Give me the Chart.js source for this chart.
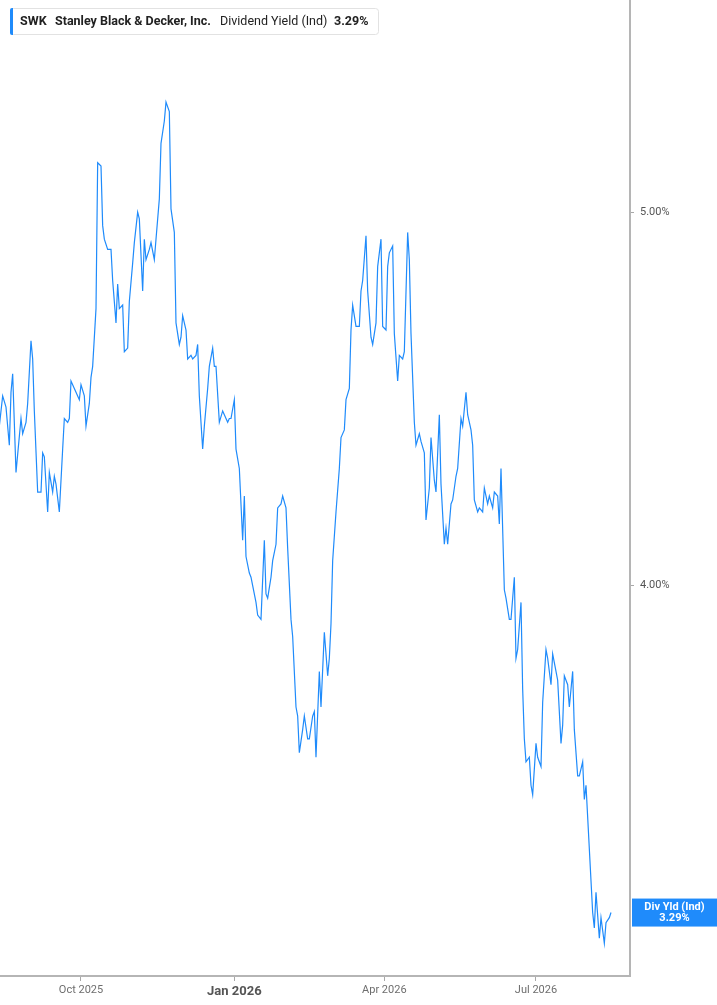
<!DOCTYPE html>
<html>
<head>
<meta charset="utf-8">
<script src="https://cdn.jsdelivr.net/npm/chart.js@4/dist/chart.umd.min.js"></script>
<style>
  html, body { margin: 0; padding: 0; background: #fff; }
  #wrap { width: 717px; height: 1005px; position: relative; }
</style>
</head>
<body>
<div id="wrap"><canvas id="c" width="717" height="1005"></canvas></div>
<script>
// SWK indicated dividend yield (%)
const dates = [
  "2025-08-13","2025-08-15","2025-08-17","2025-08-19","2025-08-20","2025-08-21","2025-08-23","2025-08-26","2025-08-27","2025-08-29","2025-08-30",
  "2025-09-01","2025-09-02","2025-09-03","2025-09-05","2025-09-07","2025-09-08","2025-09-09","2025-09-11","2025-09-12","2025-09-14","2025-09-15","2025-09-16","2025-09-18","2025-09-20","2025-09-21","2025-09-23","2025-09-24","2025-09-25","2025-09-27","2025-09-28","2025-09-30",
  "2025-10-01","2025-10-03","2025-10-04","2025-10-06","2025-10-07","2025-10-08","2025-10-10","2025-10-11","2025-10-13","2025-10-14","2025-10-15","2025-10-17","2025-10-19","2025-10-20","2025-10-22","2025-10-23","2025-10-24","2025-10-26","2025-10-27","2025-10-29","2025-10-30",
  "2025-11-01","2025-11-02","2025-11-04","2025-11-05","2025-11-07","2025-11-08","2025-11-09","2025-11-11","2025-11-12","2025-11-14","2025-11-15","2025-11-17","2025-11-18","2025-11-20","2025-11-21","2025-11-23","2025-11-24","2025-11-26","2025-11-27","2025-11-29","2025-11-30",
  "2025-12-01","2025-12-03","2025-12-04","2025-12-06","2025-12-07","2025-12-09","2025-12-10","2025-12-11","2025-12-13","2025-12-14","2025-12-16","2025-12-17","2025-12-19","2025-12-20","2025-12-21","2025-12-23","2025-12-25","2025-12-26","2025-12-28","2025-12-29","2025-12-30",
  "2026-01-01","2026-01-02","2026-01-04","2026-01-06","2026-01-07","2026-01-08","2026-01-10","2026-01-11","2026-01-12","2026-01-14","2026-01-15","2026-01-17","2026-01-19","2026-01-20","2026-01-21","2026-01-23","2026-01-24","2026-01-26","2026-01-27","2026-01-29","2026-01-30",
  "2026-02-01","2026-02-02","2026-02-04","2026-02-05","2026-02-07","2026-02-08","2026-02-09","2026-02-11","2026-02-12","2026-02-14","2026-02-15","2026-02-17","2026-02-18","2026-02-19","2026-02-21","2026-02-22","2026-02-24","2026-02-26","2026-02-27","2026-02-28",
  "2026-03-01","2026-03-03","2026-03-05","2026-03-06","2026-03-08","2026-03-09","2026-03-11","2026-03-12","2026-03-13","2026-03-15","2026-03-17","2026-03-18","2026-03-19","2026-03-21","2026-03-22","2026-03-24","2026-03-25","2026-03-27","2026-03-28","2026-03-30","2026-03-31",
  "2026-04-02","2026-04-03","2026-04-04","2026-04-06","2026-04-07","2026-04-09","2026-04-10","2026-04-12","2026-04-13","2026-04-15","2026-04-16","2026-04-17","2026-04-19","2026-04-20","2026-04-22","2026-04-23","2026-04-25","2026-04-26","2026-04-28","2026-04-29",
  "2026-05-01","2026-05-02","2026-05-04","2026-05-05","2026-05-07","2026-05-08","2026-05-09","2026-05-11","2026-05-12","2026-05-14","2026-05-15","2026-05-17","2026-05-18","2026-05-20","2026-05-21","2026-05-23","2026-05-24","2026-05-25","2026-05-27","2026-05-28","2026-05-30","2026-05-31",
  "2026-06-02","2026-06-03","2026-06-05","2026-06-06","2026-06-08","2026-06-09","2026-06-10","2026-06-12","2026-06-13","2026-06-15","2026-06-16","2026-06-18","2026-06-19","2026-06-20","2026-06-22","2026-06-23","2026-06-24","2026-06-25","2026-06-27","2026-06-28","2026-06-29",
  "2026-07-01","2026-07-02","2026-07-04","2026-07-05","2026-07-07","2026-07-08","2026-07-10","2026-07-11","2026-07-13","2026-07-14","2026-07-16","2026-07-17","2026-07-18","2026-07-20","2026-07-21","2026-07-23","2026-07-24","2026-07-26","2026-07-27","2026-07-29","2026-07-30","2026-07-31",
  "2026-08-04","2026-08-05","2026-08-06","2026-08-08","2026-08-09","2026-08-11","2026-08-12","2026-08-14","2026-08-15"
];
const yields = [
  4.40,4.48,4.45,4.35,4.49,4.54,4.28,4.42,4.38,4.41,4.46,
  4.63,4.58,4.44,4.23,4.23,4.33,4.32,4.18,4.28,4.23,4.27,4.25,4.18,4.34,4.42,4.41,4.42,4.52,4.50,4.49,4.47,
  4.51,4.48,4.40,4.46,4.53,4.56,4.72,5.15,5.14,4.96,4.92,4.89,4.89,4.80,4.68,4.79,4.72,4.73,4.60,4.61,4.74,
  4.85,4.91,5.00,4.98,4.77,4.92,4.86,4.89,4.91,4.86,4.92,5.04,5.21,5.28,5.34,5.31,5.01,4.94,4.68,4.62,4.64,
  4.70,4.66,4.58,4.59,4.58,4.59,4.62,4.48,4.34,4.40,4.50,4.56,4.61,4.56,4.56,4.41,4.44,4.43,4.41,4.42,4.42,
  4.47,4.34,4.29,4.11,4.22,4.07,4.03,4.02,4.00,3.96,3.93,3.92,4.11,3.98,3.97,4.02,4.06,4.10,4.19,4.20,4.22,
  4.19,4.09,3.92,3.88,3.72,3.70,3.62,3.67,3.70,3.65,3.65,3.70,3.71,3.61,3.80,3.72,3.89,3.79,3.83,3.91,
  4.06,4.18,4.29,4.37,4.39,4.47,4.50,4.66,4.73,4.67,4.67,4.77,4.80,4.93,4.77,4.64,4.62,4.68,4.84,4.92,4.67,
  4.66,4.84,4.88,4.90,4.65,4.52,4.59,4.58,4.60,4.94,4.86,4.65,4.41,4.35,4.38,4.36,4.33,4.16,4.24,4.37,
  4.26,4.23,4.43,4.25,4.10,4.14,4.10,4.20,4.21,4.27,4.29,4.42,4.40,4.49,4.43,4.39,4.35,4.21,4.18,4.19,4.18,4.24,
  4.20,4.22,4.19,4.23,4.22,4.15,4.29,3.99,3.97,3.92,3.92,4.02,3.83,3.85,3.96,3.76,3.65,3.60,3.61,3.55,3.53,
  3.64,3.61,3.59,3.73,3.85,3.83,3.77,3.84,3.80,3.78,3.64,3.68,3.79,3.77,3.72,3.80,3.67,3.57,3.57,3.60,3.52,3.55,
  3.29,3.26,3.33,3.24,3.28,3.23,3.27,3.28,3.29
];
const tickDates = ["2025-10-01", "2026-01-01", "2026-04-01", "2026-07-01"];
const tickLabels = ["Oct 2025", "Jan 2026", "Apr 2026", "Jul 2026"];
const yTicks = [4, 5];

const LINE = "#1f8bfb";
const FONT = "Roboto, 'Liberation Sans', Arial, sans-serif";

const dayNum = s => Date.UTC(+s.slice(0, 4), +s.slice(5, 7) - 1, +s.slice(8, 10)) / 86400000;
const points = dates.map((d, i) => ({ x: dayNum(d), y: yields[i] }));
const lastVal = yields[yields.length - 1];

const overlay = {
  id: "overlay",
  afterDraw(chart) {
    const { ctx, chartArea, scales } = chart;
    ctx.save();

    // header box
    ctx.fillStyle = "#fff";
    ctx.strokeStyle = "#e2e2e2";
    ctx.lineWidth = 1;
    ctx.beginPath();
    ctx.roundRect(10.5, 8.5, 368, 26, 3);
    ctx.fill();
    ctx.stroke();
    ctx.fillStyle = LINE;
    ctx.beginPath();
    ctx.roundRect(10, 8, 3, 27, [2, 0, 0, 2]);
    ctx.fill();

    ctx.fillStyle = "#222";
    ctx.textBaseline = "middle";
    ctx.textAlign = "left";
    ctx.font = "bold 12.5px " + FONT;
    ctx.fillText("SWK", 20, 21.5);
    ctx.fillText("Stanley Black & Decker, Inc.", 55, 21.5);
    ctx.font = "12.5px " + FONT;
    ctx.fillText("Dividend Yield (Ind)", 220, 21.5);
    ctx.font = "bold 12.5px " + FONT;
    ctx.fillText(lastVal.toFixed(2) + "%", 334, 21.5);

    // last value tag on the right axis
    const py = scales.y.getPixelForValue(lastVal);
    const left = chartArea.right + 2;
    ctx.fillStyle = LINE;
    ctx.fillRect(left, py - 14, chart.width - left, 28);
    ctx.fillStyle = "#fff";
    ctx.textAlign = "center";
    ctx.font = "bold 11px " + FONT;
    const cx = (left + chart.width) / 2;
    ctx.fillText("Div Yld (Ind)", cx, py - 5);
    ctx.fillText(lastVal.toFixed(2) + "%", cx, py + 6);
    ctx.restore();
  }
};

new Chart(document.getElementById("c"), {
  type: "line",
  data: {
    datasets: [{
      label: "Div Yld (Ind)",
      data: points,
      borderColor: LINE,
      borderWidth: 1.2,
      pointRadius: 0,
      tension: 0
    }]
  },
  options: {
    responsive: false,
    animation: false,
    layout: { padding: 0 },
    plugins: { legend: { display: false }, tooltip: { enabled: false } },
    scales: {
      x: {
        type: "linear",
        min: dayNum("2025-10-01") - 48.6,
        max: dayNum("2025-10-01") + 329.4,
        afterBuildTicks: s => { s.ticks = tickDates.map(d => ({ value: dayNum(d) })); },
        afterFit: s => { s.height = 29; s.paddingLeft = 0; s.paddingRight = 0; },
        grid: { drawOnChartArea: false, drawTicks: true, tickLength: 5, color: "#a8a8a8" },
        border: { display: true, color: "#b5b5b5", width: 2 },
        ticks: {
          autoSkip: false,
          maxRotation: 0,
          padding: 3,
          callback: (v, i) => tickLabels[i],
          color: c => c.index === 1 ? "#555" : "#6e6e6e",
          font: c => c.index === 1 ? { family: FONT, size: 13, weight: "bold" } : { family: FONT, size: 11 }
        }
      },
      y: {
        type: "logarithmic",
        position: "right",
        min: 3.1676,
        max: 5.676,
        afterBuildTicks: s => { s.ticks = yTicks.map(v => ({ value: v })); },
        afterFit: s => { s.width = 87; s.paddingTop = 0; s.paddingBottom = 0; },
        grid: { drawOnChartArea: false, drawTicks: true, tickLength: 4, color: "#a8a8a8" },
        border: { display: true, color: "#b5b5b5", width: 2 },
        ticks: {
          padding: 6,
          color: "#555",
          font: { family: FONT, size: 11 },
          callback: v => Number(v).toFixed(2) + "%"
        }
      }
    }
  },
  plugins: [overlay]
});
</script>
</body>
</html>
